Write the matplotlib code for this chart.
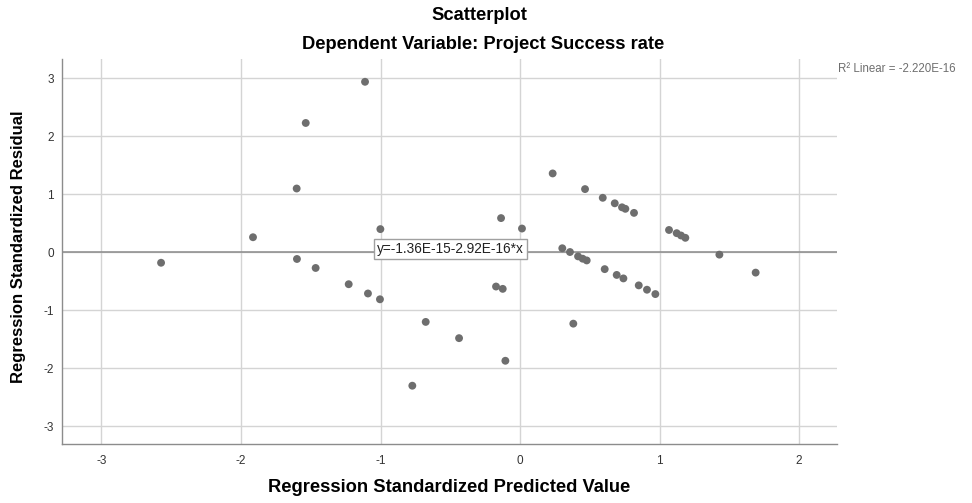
import numpy as np
import matplotlib
matplotlib.use("Agg")
import matplotlib.pyplot as plt

plt.rcParams['font.family'] = ['Liberation Sans', 'DejaVu Sans']
plt.rcParams['axes.unicode_minus'] = False

# standardized predicted value / standardized residual
predicted = [-2.573, -1.914, -1.601, -1.599, -1.536, -1.465, -1.228, -1.111,
             -1.090, -1.004, -1.001, -0.772, -0.676, -0.437, -0.172, -0.136,
             -0.124, -0.105, 0.014, 0.234, 0.303, 0.358, 0.382, 0.416,
             0.449, 0.466, 0.478, 0.593, 0.607, 0.679, 0.693, 0.731,
             0.741, 0.755, 0.817, 0.851, 0.910, 0.970, 1.068, 1.123,
             1.154, 1.185, 1.429, 1.689]
residual = [-0.18, 0.26, 1.10, -0.115, 2.23, -0.27, -0.55, 2.94,
            -0.71, -0.81, 0.40, -2.30, -1.20, -1.48, -0.59, 0.59,
            -0.63, -1.87, 0.41, 1.36, 0.07, 0.005, -1.23, -0.07,
            -0.11, 1.09, -0.14, 0.94, -0.29, 0.845, -0.39, 0.776,
            -0.45, 0.75, 0.68, -0.57, -0.645, -0.72, 0.385, 0.33,
            0.29, 0.25, -0.04, -0.35]

intercept = -1.36e-15
slope = -2.92e-16
r2_text = "R\u00b2 Linear = -2.220E-16"
eq_text = "y=-1.36E-15-2.92E-16*x"

xticks = [-3, -2, -1, 0, 1, 2]
yticks = [-3, -2, -1, 0, 1, 2, 3]

fig = plt.figure(figsize=(9.72, 5.03), dpi=100)
ax = fig.add_axes([0.0638, 0.1173, 0.7973, 0.7654])

xlim = (-3.283, 2.272)
ylim = (-3.305, 3.333)
ax.set_xlim(*xlim)
ax.set_ylim(*ylim)
ax.set_xticks(xticks)
ax.set_yticks(yticks)
ax.grid(True, color='#d4d4d4', lw=1.0)
ax.set_axisbelow(True)

for s in ['top', 'right']:
    ax.spines[s].set_visible(False)
for s in ['left', 'bottom']:
    ax.spines[s].set_color('#8c8c8c')
    ax.spines[s].set_linewidth(1.0)

ax.tick_params(axis='both', length=0, labelsize=8.5, labelcolor='#333333')
ax.tick_params(axis='x', pad=8)
ax.tick_params(axis='y', pad=6)

# fit line
xs = np.array(xlim)
ax.plot(xs, intercept + slope * xs, color='#8a8a8a', lw=1.1, zorder=2)

ax.scatter(predicted, residual, s=32, color='#6e6e6e', edgecolors='none',
           zorder=3)

ax.text(-0.50, 0.06, eq_text, ha='center', va='center', fontsize=9.8,
        color='#222222', zorder=4,
        bbox=dict(boxstyle='square,pad=0.22', fc='white', ec='#a0a0a0', lw=1))

fig.text(0.862, 0.862, r2_text, ha='left', va='center', fontsize=8.3,
         color='#6e6e6e')

fig.text(0.493, 0.970, "Scatterplot", ha='center', va='center',
         fontsize=13.2, weight='bold')
fig.text(0.497, 0.912, "Dependent Variable: Project Success rate",
         ha='center', va='center', fontsize=13.2, weight='bold')
fig.text(0.462, 0.030, "Regression Standardized Predicted Value",
         ha='center', va='center', fontsize=13.2, weight='bold')
fig.text(0.019, 0.509, "Regression Standardized Residual", ha='center',
         va='center', rotation=90, fontsize=12, weight='bold')

fig.savefig("out.png", dpi=100)
